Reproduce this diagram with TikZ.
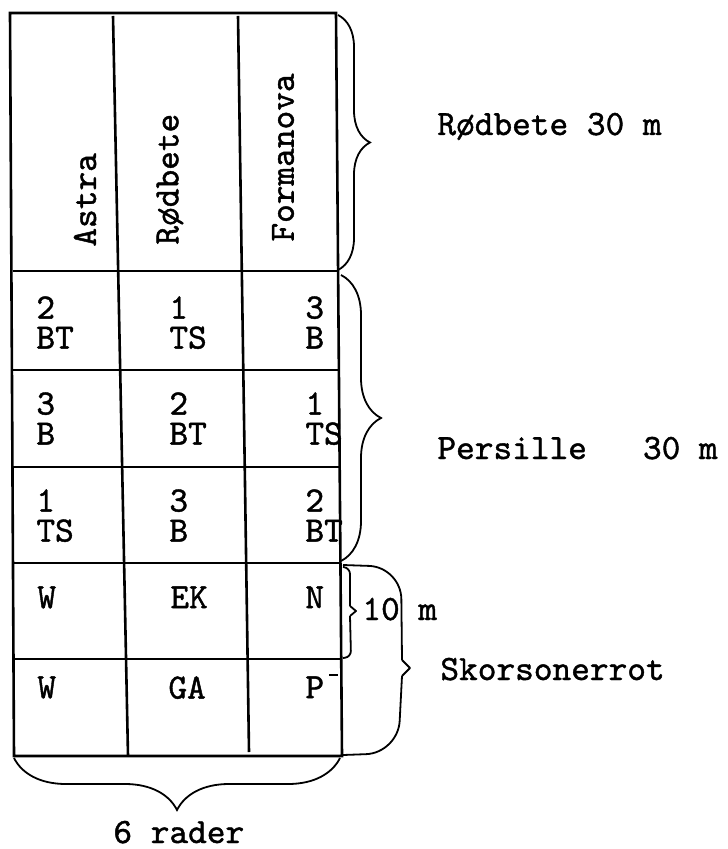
\documentclass[tikz,border=0pt]{standalone}
\usepackage{fontspec}
\newfontfamily\typewr{lmmono10-regular}[Extension=.otf, FakeBold=1.2]
\usepackage{tikz}
\usetikzlibrary{decorations.pathreplacing}

\begin{document}
\begin{tikzpicture}[x=0.5pt, y=-0.5pt,
  every node/.style={font=\typewr\fontsize{17.8pt}{15pt}\selectfont, inner sep=0pt},
  cell/.style={anchor=north west, align=left},
  head/.style={rotate=90, anchor=west},
  lbl/.style={anchor=base west},
  gridline/.style={line width=1.3pt},
  hand/.style={line width=0.9pt, line join=round},
  brc/.style={decorate, decoration={brace, amplitude=#1}, line width=0.9pt}]
  \useasboundingbox (0,0) rectangle (727,849);
  % Beds
  \draw[gridline] (10,13) -- (336,13) -- (342,756) -- (14,756) -- cycle;
  \draw[gridline] (113,16) -- (128,756);
  \draw[gridline] (238,16) -- (249,752);
  \foreach \y in {271,370,467,563,659} {
    \draw[gridline] ({12+2*(\y-13)/742},\y) -- ({336+6*(\y-13)/742},\y);
  }
  % Varieties
  \node[head] (astra) at (85,247) {Astra};
  \node[head] (rodb) at (170,245) {Rødbete};
  \node[head] (forma) at (283,242) {Formanova};
  % Plots
  \foreach \nm/\x/\y/\nr/\kode in {r2c1/36/296/2/BT, r2c2/169/296/1/TS, r2c3/305/296/3/B,
      r3c1/36/392/3/B, r3c2/169/392/2/BT, r3c3/305/392/1/TS,
      r4c1/36/489/1/TS, r4c2/169/489/3/B, r4c3/305/489/2/BT} {
    \node[cell] (\nm) at (\x,\y) {\nr\\\kode};
  }
  \node[cell] (r5c1) at (37,586) {W};
  \node[cell] (r5c2) at (170,586) {EK};
  \node[cell] (r5c3) at (305,586) {N};
  \node[cell] (r6c1) at (37,676) {W};
  \node[cell] (r6c2) at (168,676) {GA};
  \node[cell] (r6c3) at (305,676) {P};
  \draw[line width=1pt] (329,675) -- (338,675);
  % Braces and lengths
  \draw[brc=16pt] (338,15) -- (338,270);
  \draw[brc=20pt] (341,275) -- (341,561);
  \draw[hand, rounded corners=3pt] (343,567) -- (350,568) -- (350,606);
  \draw[hand] (350,606) -- (356,611) -- (350,616);
  \draw[hand, rounded corners=3pt] (350,616) -- (351,657) -- (343,658);
  \draw[hand, rounded corners=16pt] (343,565) -- (401,567) -- (402,660);
  \draw[hand] (402,660) -- (410,668) -- (402,676);
  \draw[hand, rounded corners=16pt] (402,676) -- (398,753) -- (343,755);
  \draw[brc=26pt] (340,758) -- (14,758);
  \node[lbl] (rodbete) at (437,135) {Rødbete 30 m};
  \node[lbl] (persille) at (437,459) {Persille\ \ \ 30 m};
  \node[lbl] (ti) at (362,620) {10 m};
  \node[lbl] (skorson) at (440,680) {Skorsonerrot};
  \node[lbl] (rader) at (113,843) {6 rader};
\end{tikzpicture}
\end{document}
